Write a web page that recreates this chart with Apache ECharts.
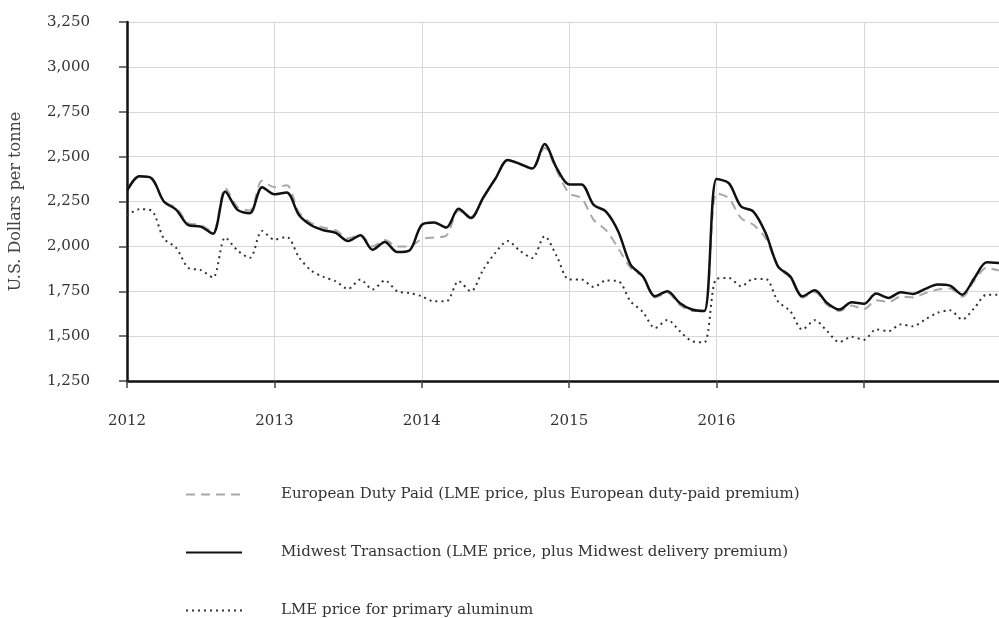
<!DOCTYPE html>
<html>
<head>
<meta charset="utf-8">
<script src="https://cdn.jsdelivr.net/npm/echarts@6/dist/echarts.min.js"></script>
<style>
  html, body { margin: 0; padding: 0; background: #fff; }
  #chart { width: 999px; height: 618px; }
</style>
</head>
<body>
<div id="chart"></div>
<script>
  // monthly points, Jan 2012 .. Dec 2017
  const years = [2012, 2013, 2014, 2015, 2016, 2017];
  const months = [];
  years.forEach((y) => {
    for (let m = 1; m <= 12; m++) months.push(y + '-' + (m < 10 ? '0' + m : m));
  });

  const europeanDutyPaid = [
    2310, 2390, 2375, 2250, 2215, 2130, 2120, 2080, 2325, 2220, 2200, 2365,
    2330, 2340, 2190, 2130, 2105, 2090, 2045, 2065, 2000, 2035, 2000, 2000,
    2040, 2050, 2060, 2200, 2160, 2270, 2375, 2480, 2460, 2430, 2550, 2420,
    2296, 2269, 2148, 2090, 1990, 1880, 1830, 1715, 1740, 1675, 1640, 1640,
    2296, 2268, 2157, 2120, 2046, 1889, 1825, 1715, 1745, 1675, 1640, 1670,
    1650, 1700, 1690, 1720, 1715, 1740, 1760, 1765, 1720, 1810, 1880, 1865
  ];
  const midwestTransaction = [
    2310, 2390, 2380, 2250, 2205, 2118, 2110, 2070, 2306, 2203, 2185, 2330,
    2290, 2300, 2175, 2118, 2090, 2075, 2030, 2062, 1981, 2025, 1968, 1977,
    2120, 2133, 2105, 2209, 2158, 2271, 2378, 2481, 2459, 2434, 2571, 2434,
    2345, 2345, 2231, 2194, 2083, 1898, 1833, 1722, 1750, 1685, 1648, 1640,
    2375, 2352, 2222, 2194, 2074, 1889, 1833, 1722, 1755, 1685, 1648, 1689,
    1680, 1737, 1713, 1744, 1735, 1763, 1787, 1781, 1731, 1824, 1911, 1907
  ];
  const lmePrice = [
    2170, 2207, 2199, 2043, 1992, 1880, 1868, 1827, 2049, 1977, 1936, 2086,
    2038, 2053, 1940, 1865, 1830, 1805, 1763, 1815, 1760, 1810, 1750, 1740,
    1722, 1694, 1694, 1806, 1750, 1870, 1965, 2030, 1975, 1935, 2056, 1944,
    1815, 1815, 1774, 1810, 1806, 1694, 1635, 1545, 1590, 1528, 1472, 1465,
    1820, 1824, 1778, 1818, 1818, 1694, 1639, 1537, 1589, 1528, 1467, 1496,
    1480, 1537, 1528, 1565, 1555, 1593, 1630, 1644, 1593, 1657, 1731, 1731
  ];

  const labelYears = ['2012', '2013', '2014', '2015', '2016'];
  const serif = '"DejaVu Serif", "Liberation Serif", serif';
  const isJan = (idx) => idx % 12 === 0;

  const chart = echarts.init(document.getElementById('chart'));

  const option = {
    backgroundColor: '#fff',
    animation: false,
    grid: { left: 127, right: 0, top: 22, bottom: 237 },
    legend: {
      orient: 'vertical',
      left: 185,
      top: 487,
      height: 200,
      padding: 0,
      itemWidth: 56,
      itemHeight: 14,
      itemGap: 43,
      itemStyle: { opacity: 0 },
      textStyle: { fontFamily: serif, fontSize: 15, color: '#333', padding: [0, 0, 0, 34] },
      data: [
        'European Duty Paid (LME price, plus European duty-paid premium)',
        'Midwest Transaction (LME price, plus Midwest delivery premium)',
        'LME price for primary aluminum'
      ]
    },
    xAxis: {
      type: 'category',
      boundaryGap: false,
      data: months,
      axisLine: { lineStyle: { color: '#111', width: 2.5 } },
      axisTick: { show: true, interval: isJan, length: 7, lineStyle: { color: '#444', width: 1.5 } },
      axisLabel: {
        interval: isJan,
        margin: 33,
        fontFamily: serif,
        fontSize: 15,
        color: '#333',
        formatter: (v) => {
          const y = v.slice(0, 4);
          return labelYears.includes(y) ? y : '';
        }
      },
      splitLine: { show: true, interval: isJan, lineStyle: { color: '#d8d8d8', width: 1 } }
    },
    yAxis: {
      type: 'value',
      min: 1250,
      max: 3250,
      interval: 250,
      name: 'U.S. Dollars per tonne',
      nameLocation: 'middle',
      nameGap: 103,
      nameRotate: 90,
      nameTextStyle: { fontFamily: serif, fontSize: 16, color: '#444' },
      axisLine: { show: true, lineStyle: { color: '#111', width: 2.5 } },
      axisTick: { show: true, length: 8, lineStyle: { color: '#444', width: 1.5 } },
      axisLabel: {
        margin: 37,
        fontFamily: serif,
        fontSize: 15,
        color: '#333',
        formatter: (v) => v.toLocaleString('en-US')
      },
      splitLine: { lineStyle: { color: '#d8d8d8', width: 1 } }
    },
    series: [
      {
        name: 'European Duty Paid (LME price, plus European duty-paid premium)',
        type: 'line',
        data: europeanDutyPaid,
        smooth: 0.3,
        symbol: 'none',
        lineStyle: { color: '#a8a8a8', width: 2, type: [9, 6] },
        itemStyle: { color: '#a8a8a8' }
      },
      {
        name: 'Midwest Transaction (LME price, plus Midwest delivery premium)',
        type: 'line',
        data: midwestTransaction,
        smooth: 0.3,
        symbol: 'none',
        lineStyle: { color: '#111', width: 2.5 },
        itemStyle: { color: '#111' }
      },
      {
        name: 'LME price for primary aluminum',
        type: 'line',
        data: lmePrice,
        smooth: 0.3,
        symbol: 'none',
        lineStyle: { color: '#333', width: 2, type: [2, 4] },
        itemStyle: { color: '#333' }
      }
    ]
  };

  chart.setOption(option);
</script>
</body>
</html>
